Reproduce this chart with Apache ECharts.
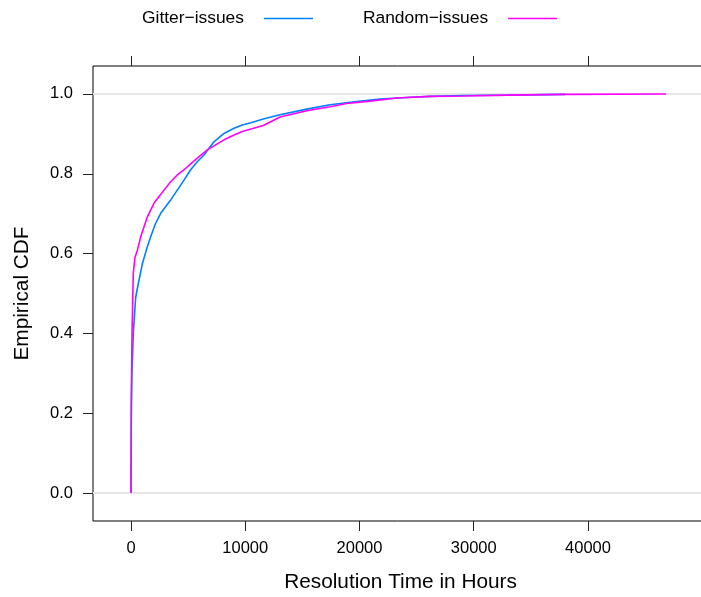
<!DOCTYPE html>
<html>
<head>
<meta charset="utf-8">
<script src="https://cdn.jsdelivr.net/npm/echarts@6/dist/echarts.min.js"></script>
<style>
  html, body { margin: 0; padding: 0; background: #fff; }
  #main { width: 701px; height: 597px; }
</style>
</head>
<body>
<div id="main"></div>
<script>
// ECDF of resolution time (hours)
var gitterHours = [0, 30, 80, 200, 411, 640, 1000, 1430, 1720, 2160, 2600, 3470, 4050, 4640, 5220, 5800, 6390, 6830, 7260, 8140, 9020, 9740, 10500, 11580, 13040, 15380, 17420, 19750, 21790, 24130, 26170, 29090, 33000, 38000];
var gitterCdf = [0, 0.2, 0.3, 0.40, 0.49, 0.525, 0.575, 0.617, 0.642, 0.676, 0.701, 0.734, 0.759, 0.784, 0.810, 0.830, 0.847, 0.864, 0.880, 0.901, 0.914, 0.922, 0.928, 0.937, 0.948, 0.962, 0.973, 0.981, 0.987, 0.991, 0.994, 0.996, 0.997, 0.999];

var randomHours = [0, 30, 90, 150, 200, 350, 550, 850, 1140, 1430, 1720, 2010, 2450, 2890, 3470, 4050, 4640, 5220, 5800, 6680, 7550, 8140, 9020, 9740, 11580, 13040, 15380, 17420, 18880, 20920, 23260, 26170, 29090, 33000, 38000, 46830];
var randomCdf = [0, 0.25, 0.40, 0.484, 0.551, 0.59, 0.608, 0.642, 0.667, 0.692, 0.709, 0.726, 0.743, 0.759, 0.780, 0.797, 0.810, 0.825, 0.839, 0.860, 0.875, 0.885, 0.897, 0.906, 0.921, 0.942, 0.958, 0.968, 0.976, 0.982, 0.990, 0.994, 0.995, 0.997, 0.999, 1.0];

var xTicks = [0, 10000, 20000, 30000, 40000];
var yTicks = [0, 0.2, 0.4, 0.6, 0.8, 1.0];
var seriesNames = ['Gitter\u2212issues', 'Random\u2212issues'];

function pairs(xs, ys) {
  return xs.map(function (x, i) { return [x, ys[i]]; });
}

var font = 'Liberation Sans, Arial, Helvetica, sans-serif';
var chart = echarts.init(document.getElementById('main'));

var option = {
  animation: false,
  backgroundColor: '#fff',
  textStyle: { fontFamily: font },
  legend: {
    left: 142,
    top: 10,
    padding: 0,
    align: 'right',
    itemGap: 50,
    itemWidth: 49,
    itemHeight: 1.5,
    icon: 'rect',
    data: seriesNames,
    textStyle: { fontSize: 17.4, color: '#000', fontFamily: font, padding: [0, 15, 0, 0] }
  },
  grid: {
    left: 93,
    top: 66,
    height: 455,
    width: 615,
    outerBoundsMode: 'none',
    containLabel: false,
    show: true,
    borderColor: '#000',
    borderWidth: 1
  },
  xAxis: [{
    type: 'value',
    position: 'bottom',
    min: -3325,
    max: 50505,
    splitLine: { show: false },
    axisLine: { show: false, onZero: false },
    axisTick: { show: true, inside: false, length: 10, customValues: xTicks, lineStyle: { color: '#222' } },
    axisLabel: {
      customValues: xTicks, fontSize: 16.5, color: '#000', margin: 19, fontFamily: font,
      formatter: function (v) { return String(v); }
    },
    name: 'Resolution Time in Hours',
    nameLocation: 'middle',
    nameGap: 51,
    nameTextStyle: { fontSize: 20.8, color: '#000', fontFamily: font }
  }, {
    type: 'value',
    position: 'top',
    min: -3325,
    max: 50505,
    splitLine: { show: false },
    axisLine: { show: false, onZero: false },
    axisTick: { show: true, inside: false, length: 10, customValues: xTicks, lineStyle: { color: '#222' } },
    axisLabel: { show: false }
  }],
  yAxis: {
    type: 'value',
    min: -0.07,
    max: 1.07,
    splitLine: { show: false },
    axisLine: { show: false, onZero: false },
    axisTick: { show: true, inside: false, length: 10, customValues: yTicks, lineStyle: { color: '#222' } },
    axisLabel: {
      customValues: yTicks,
      fontSize: 16.5,
      color: '#000',
      margin: 20,
      fontFamily: font,
      formatter: function (v) { return v.toFixed(1); }
    },
    name: 'Empirical CDF',
    nameLocation: 'middle',
    nameRotate: 90,
    nameGap: 60,
    nameTextStyle: { fontSize: 20.8, color: '#000', fontFamily: font }
  },
  series: [{
    type: 'line',
    name: 'ref',
    data: [],
    z: 1,
    silent: true,
    markLine: {
      z: 1,
      silent: true,
      symbol: 'none',
      label: { show: false },
      lineStyle: { color: '#e6e6e6', width: 2, type: 'solid' },
      data: [{ yAxis: 0 }, { yAxis: 1 }]
    }
  }, {
    type: 'line',
    name: seriesNames[0],
    data: pairs(gitterHours, gitterCdf),
    showSymbol: false,
    z: 3,
    color: '#0080ff',
    lineStyle: { width: 1.6, color: '#0080ff' }
  }, {
    type: 'line',
    name: seriesNames[1],
    data: pairs(randomHours, randomCdf),
    showSymbol: false,
    z: 4,
    color: '#ff00ff',
    lineStyle: { width: 1.6, color: '#ff00ff' }
  }]
};

chart.setOption(option);
</script>
</body>
</html>
